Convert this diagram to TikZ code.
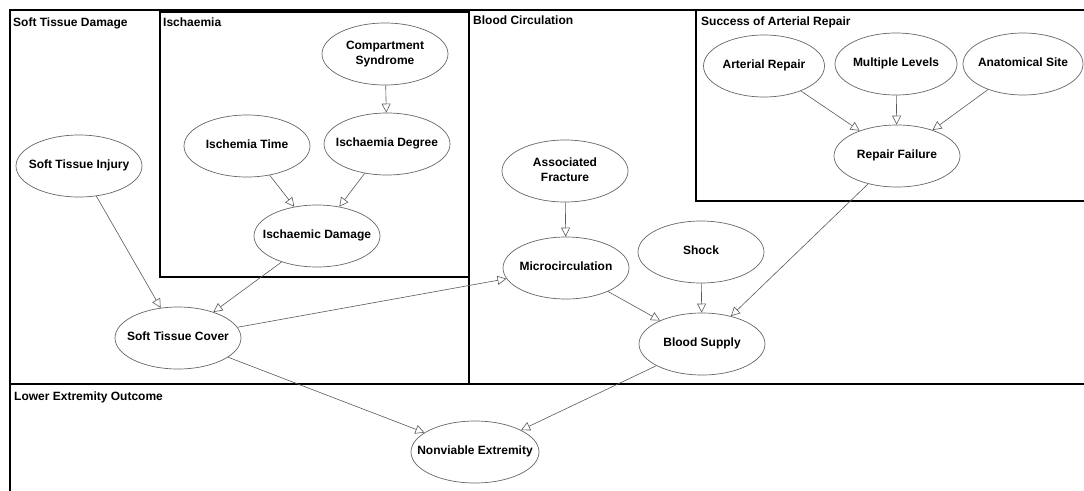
\documentclass[tikz,border=0pt]{standalone}
\usepackage{fontspec}
\setmainfont{Liberation Sans}
\usetikzlibrary{shapes.geometric, arrows.meta}
\newcommand{\vlabel}[1]{\makebox[0pt]{\begin{tabular}{@{}c@{}}#1\end{tabular}}}

\begin{document}
\begin{tikzpicture}[x=1pt, y=-1pt,
    var/.style={ellipse, draw=black!60, line width=0.7pt, fill=white, minimum width=126pt, minimum height=62pt, inner sep=0pt, font=\fontsize{12}{14.5}\selectfont\bfseries},
    region/.style={draw=black, line width=2.4pt},
    title/.style={anchor=base west, inner sep=0pt, font=\fontsize{12}{14.5}\selectfont\bfseries},
    dep/.style={draw=black!65, line width=0.6pt, -{Triangle[open, length=9pt, width=9pt]}}]
    \clip (0, 0) rectangle (1084, 490);

    % --- Regions ---
    \draw[region] (10, 10) rectangle (469, 384);
    \draw[region] (160, 12) rectangle (469, 277);
    \draw[region] (469, 10) rectangle (1095, 384);
    \draw[region] (696, 10) rectangle (1095, 201);
    \draw[region] (10, 384) rectangle (1095, 500);

    % --- Region titles ---
    \node[title] (t1) at (13, 26) {Soft Tissue Damage};
    \node[title] (t2) at (163, 26) {Ischaemia};
    \node[title] (t3) at (473, 24.5) {Blood Circulation};
    \node[title] (t4) at (701, 25.5) {Success of Arterial Repair};
    \node[title] (t5) at (14, 400) {Lower Extremity Outcome};

    % --- Soft tissue and ischaemia nodes ---
    \node[var] (sti) at (79, 166) {\vlabel{Soft Tissue Injury}};
    \node[var] (cs) at (385, 54) {\vlabel{Compartment\\Syndrome}};
    \node[var] (it) at (247, 146) {\vlabel{Ischemia Time}};
    \node[var] (idg) at (387, 144) {\vlabel{Ischaemia Degree}};
    \node[var] (idm) at (317, 236) {\vlabel{Ischaemic Damage}};
    \node[var] (stc) at (178, 338) {\vlabel{Soft Tissue Cover}};

    % --- Blood circulation nodes ---
    \node[var] (af) at (565, 171) {\vlabel{Associated\\Fracture}};
    \node[var] (mc) at (566, 268) {\vlabel{Microcirculation}};
    \node[var] (sh) at (701, 252) {\vlabel{Shock}};
    \node[var] (bs) at (702, 344) {\vlabel{Blood Supply}};

    % --- Arterial repair nodes ---
    \node[var, minimum width=121pt] (ar) at (764, 66) {\vlabel{Arterial Repair}};
    \node[var, minimum width=122pt] (ml) at (896, 64) {\vlabel{Multiple Levels}};
    \node[var, minimum width=120pt] (as) at (1023, 64) {\vlabel{Anatomical Site}};
    \node[var] (rf) at (897, 156) {\vlabel{Repair Failure}};

    % --- Outcome ---
    \node[var, minimum width=128pt] (ne) at (475, 452) {\vlabel{Nonviable Extremity}};

    % --- Dependencies ---
    \draw[dep] (cs) -- (idg);
    \draw[dep] (it) -- (idm);
    \draw[dep] (idg) -- (idm);
    \draw[dep] (sti) -- (stc);
    \draw[dep] (idm) -- (stc);
    \draw[dep] (stc) -- (mc);
    \draw[dep] (af) -- (mc);
    \draw[dep] (mc) -- (bs);
    \draw[dep] (sh) -- (bs);
    \draw[dep] (rf) -- (bs);
    \draw[dep] (ar) -- (rf);
    \draw[dep] (ml) -- (rf);
    \draw[dep] (as) -- (rf);
    \draw[dep] (stc) -- (ne);
    \draw[dep] (bs) -- (ne);
\end{tikzpicture}
\end{document}
